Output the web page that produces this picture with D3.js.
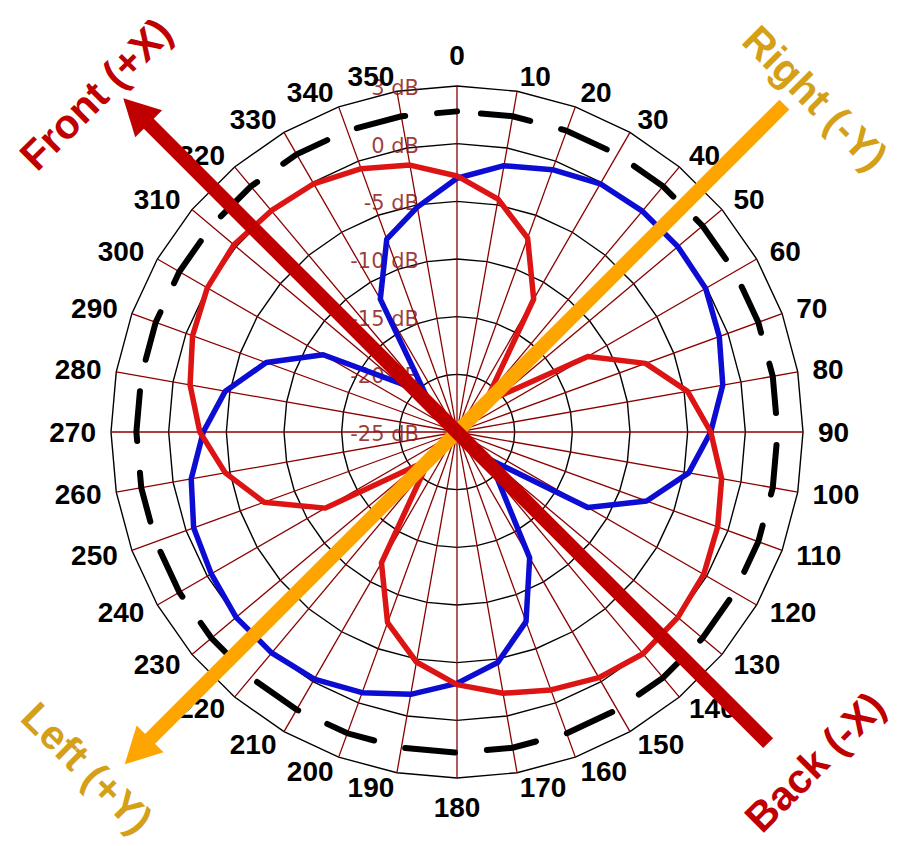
<!DOCTYPE html>
<html>
<head>
<meta charset="utf-8">
<script src="https://cdn.jsdelivr.net/npm/d3@7"></script>
<style>
  body { margin: 0; background: #fff; }
  svg { display: block; }
</style>
</head>
<body>
<div id="chart"></div>
<script>
// angles of the radar, degrees clockwise from top
const angles = [0, 10, 20, 30, 40, 50, 60, 70, 80, 90, 100, 110, 120, 130, 140, 150, 160, 170,
  180, 190, 200, 210, 220, 230, 240, 250, 260, 270, 280, 290, 300, 310, 320, 330, 340, 350];

// blue pattern (dB)
const blueDb = [-3, -1.55, -0.8, -0.15, 0, 0, -0.1, -0.8, -1.6, -3, -4.6, -7.5, -11.9, -21.3, -19.4, -12.4, -7.5, -4.7,
  -3.2, -1.9, -0.95, -0.25, 0, 0, -0.4, -0.7, -1.6, -3, -4.6, -7.4, -11.6, -18.3, -20.8, -11.7, -7.2, -5.2];

// red pattern (dB)
const redDb = [-2.8, -4.5, -7.1, -11.7, -20.6, -20.1, -11.9, -7.6, -4.7, -3, -1.7, -0.95, -0.3, 0, 0.1, -0.4, -1.2, -2,
  -3.1, -4.75, -7.4, -11.9, -20.5, -20.5, -11.8, -7.2, -4.6, -2.7, -1.5, -0.6, 0, 0.25, 0.05, -0.15, -0.7, -1.5];

// black dashed reference (dB)
const refDb = [2.8, 2.8, 2.8, 2.8, 2.8, 2.8, 2.8, 2.8, 2.8, 2.8, 2.8, 2.8, 2.8, 2.8, 2.8, 2.8, 2.8, 2.8,
  2.8, 2.8, 2.8, 2.8, 2.8, 2.8, 2.8, 2.8, 2.8, 2.8, 2.8, 2.8, 2.8, 2.8, 2.8, 2.8, 2.8, 2.8];

// grid rings and their labels
const ringValues = [-25, -20, -15, -10, -5, 0, 5];
const ringLabels = ["-25 dB", "-20 dB", "-15 dB", "-10 dB", "-5 dB", "0 dB", "3 dB"];
const angleLabels = ["0", "10", "20", "30", "40", "50", "60", "70", "80", "90", "100", "110", "120", "130", "140",
  "150", "160", "170", "180", "190", "200", "210", "220", "230", "240", "250", "260", "270", "280", "290", "300",
  "310", "320", "330", "340", "350"];

// axis names
const axisLabels = ["Front (+X)", "Back (-X)", "Right (-Y)", "Left (+Y)"];

const width = 897;
const height = 846;
const cx = 457;
const cy = 432;

const svg = d3.select("#chart")
  .append("svg")
  .attr("width", width)
  .attr("height", height);

const g = svg.append("g").attr("transform", `translate(${cx},${cy})`);

const r = d3.scaleLinear().domain([-25, 5]).range([0, 346]);
const toRad = (d) => (d * Math.PI) / 180;

// polygon (radar) path for a series
const radar = (values) =>
  d3.lineRadial()
    .angle((d, i) => toRad(angles[i]))
    .radius((d) => r(d))
    .curve(d3.curveLinearClosed)(values);

// rings
g.append("g")
  .selectAll("path")
  .data(ringValues.slice(1))
  .join("path")
  .attr("d", (v) => radar(angles.map(() => v)))
  .attr("fill", "none")
  .attr("stroke", "#000")
  .attr("stroke-width", 1.4);

// spokes
g.append("g")
  .selectAll("line")
  .data(angles)
  .join("line")
  .attr("x1", 0)
  .attr("y1", 0)
  .attr("x2", (a) => r(5) * Math.sin(toRad(a)))
  .attr("y2", (a) => -r(5) * Math.cos(toRad(a)))
  .attr("stroke", "#8b0000")
  .attr("stroke-width", 1.3);

// dB labels
g.append("g")
  .selectAll("text")
  .data(ringValues)
  .join("text")
  .attr("x", -38)
  .attr("y", (v) => -r(v) + 2)
  .attr("text-anchor", "end")
  .attr("dominant-baseline", "central")
  .attr("font-family", "DejaVu Sans, sans-serif")
  .attr("font-size", 21)
  .attr("fill", "#8b1a1a")
  .attr("fill-opacity", 0.85)
  .text((v, i) => ringLabels[i]);

// series
g.append("path")
  .attr("d", radar(refDb))
  .attr("fill", "none")
  .attr("stroke", "#000")
  .attr("stroke-width", 6)
  .attr("stroke-linecap", "round")
  .attr("stroke-dasharray", "50 32")
  .attr("stroke-dashoffset", 58);

g.append("path")
  .attr("d", radar(blueDb))
  .attr("fill", "none")
  .attr("stroke", "#0c0cd2")
  .attr("stroke-width", 5.5)
  .attr("stroke-linejoin", "round");

g.append("path")
  .attr("d", radar(redDb))
  .attr("fill", "none")
  .attr("stroke", "#dc1414")
  .attr("stroke-width", 5.5)
  .attr("stroke-linejoin", "round");

// angle labels
const R = 361;
g.append("g")
  .selectAll("text")
  .data(angles)
  .join("text")
  .each(function (a, i) {
    const s = Math.sin(toRad(a));
    const c = Math.cos(toRad(a));
    let x = R * s;
    let y = -R * c;
    let anchor = s > 0.01 ? "start" : s < -0.01 ? "end" : "middle";
    if (anchor === "middle") y += c > 0 ? -16 : 14;
    d3.select(this)
      .attr("x", x)
      .attr("y", y)
      .attr("text-anchor", anchor)
      .attr("dominant-baseline", "central")
      .text(angleLabels[i]);
  })
  .attr("font-family", "Liberation Sans, Arial, sans-serif")
  .attr("font-weight", "bold")
  .attr("font-size", 28)
  .attr("fill", "#000");

// arrows along the axes
function axisArrow(fromDeg, fromR, toDeg, toR, color) {
  const p = (deg, rr) => [rr * Math.sin(toRad(deg)), -rr * Math.cos(toRad(deg))];
  const a = p(fromDeg, fromR);
  const tip = p(toDeg, toR);
  const headLen = 36;
  const headW = 38;
  const ux = Math.sin(toRad(toDeg));
  const uy = -Math.cos(toRad(toDeg));
  const base = [tip[0] - ux * headLen, tip[1] - uy * headLen];
  g.append("line")
    .attr("x1", a[0]).attr("y1", a[1])
    .attr("x2", base[0] + ux * 2).attr("y2", base[1] + uy * 2)
    .attr("stroke", color)
    .attr("stroke-width", 14);
  g.append("path")
    .attr("d", d3.line()([
      tip,
      [base[0] - uy * headW / 2, base[1] + ux * headW / 2],
      [base[0] + uy * headW / 2, base[1] - ux * headW / 2],
    ]) + "Z")
    .attr("fill", color);
}

axisArrow(45, 463, 225, 470, "#ffa500");
axisArrow(135, 440, 315, 472, "#c00000");

const labelPos = [
  { x: 96, y: 94, rot: -45, color: "#c00000" },
  { x: 815, y: 762, rot: -45, color: "#c00000" },
  { x: 815, y: 98, rot: 45, color: "#d4a017" },
  { x: 87, y: 768, rot: 45, color: "#d4a017" },
];
svg.append("g")
  .selectAll("text")
  .data(axisLabels)
  .join("text")
  .attr("transform", (d, i) => `translate(${labelPos[i].x},${labelPos[i].y}) rotate(${labelPos[i].rot})`)
  .attr("text-anchor", "middle")
  .attr("dominant-baseline", "central")
  .attr("font-family", "Liberation Sans, Arial, sans-serif")
  .attr("font-weight", "bold")
  .attr("font-size", 41)
  .attr("fill", (d, i) => labelPos[i].color)
  .text((d) => d);
</script>
</body>
</html>
